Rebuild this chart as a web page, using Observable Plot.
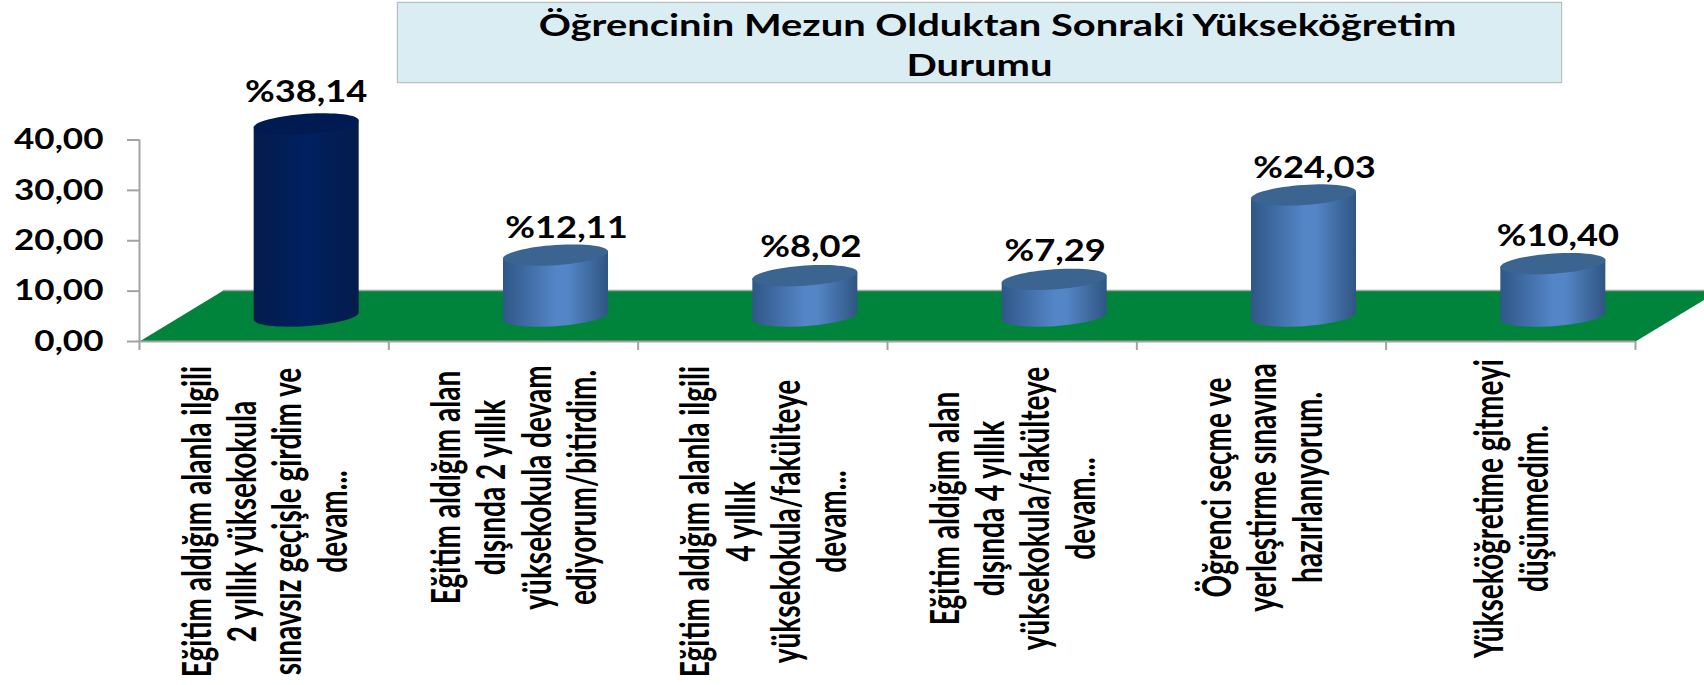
<!DOCTYPE html>
<html lang="tr"><head><meta charset="utf-8">
<script src="https://cdn.jsdelivr.net/npm/d3@7"></script>
<script src="https://cdn.jsdelivr.net/npm/@observablehq/plot@0.6"></script>
<style>
html,body{margin:0;padding:0;background:#fff;overflow:hidden}
#wrap{position:relative;width:1704px;height:685px}
#wrap svg{position:absolute;left:0;top:0;overflow:hidden}
#title{position:absolute;z-index:2;left:397px;top:2px;width:1163px;height:79px;background:#daedf3;border:1px solid #b9c0c3;box-shadow:0 0 1px #aaa;text-align:center;
 font:700 30px Lato,sans-serif;color:#000}
#title span{display:block;height:40px;line-height:42px;transform:scaleX(1.33);transform-origin:50% 50%}
#title span:first-child{transform:translateX(18px) scaleX(1.33)}
</style></head><body>
<div id="wrap">
<div id="title"><span>Öğrencinin Mezun Olduktan Sonraki Yükseköğretim</span><span>Durumu</span></div>
</div>
<script>
// Data
const categories = [
 "Eğitim aldığım alanla ilgili\n2 yıllık yüksekokula\nsınavsız geçişle girdim ve\ndevam...",
 "Eğitim aldığım alan\ndışında 2 yıllık\nyüksekokula devam\nediyorum/bitirdim.",
 "Eğitim aldığım alanla ilgili\n4 yıllık\nyüksekokula/fakülteye\ndevam...",
 "Eğitim aldığım alan\ndışında 4 yıllık\nyüksekokula/fakülteye\ndevam...",
 "Öğrenci seçme ve\nyerleştirme sınavına\nhazırlanıyorum.",
 "Yükseköğretime gitmeyi\ndüşünmedim."
];
const values = [38.14, 12.11, 8.02, 7.29, 24.03, 10.40];
const valueLabels = ["%38,14","%12,11","%8,02","%7,29","%24,03","%10,40"];
const yTicks = [0,10,20,30,40];
const highlighted = [0];

// Layout of the pseudo-3D scene, in data units
const depthX = 0.337, depthY = 10.1;
const radiusX = 0.2106, capA = 2.0, capS = 0.7;
const labelDx = [0,11,6,1,11,5];
const labelDy = [-31,-27,-28,-28,-26,-27];
const catDy = [180,146,180,167,146,167];

const cx = i => i + 0.5 + depthX/2;
const base = depthY/2;
const rows = categories.map((c,i)=>({i,c,v:values[i],label:valueLabels[i]}));

const arc = (x0,y0,from,to,n=32) => d3.range(n+1).map(k=>{
  const t = from+(to-from)*k/n;
  return {x:x0+radiusX*Math.cos(t), y:y0-capA*Math.sin(t)+capS*Math.cos(t)};
});
const bodyPts = r => [...arc(cx(r.i),r.v+base,Math.PI,Math.PI,1).slice(0,1),
                      ...arc(cx(r.i),base,Math.PI,0),
                      ...arc(cx(r.i),r.v+base,0,0,1).slice(0,1)].map(p=>({...p,id:r.i}));
const capPts = r => arc(cx(r.i),r.v+base,0,2*Math.PI,64).map(p=>({...p,id:r.i}));
const isHi = r => highlighted.includes(r.i);
const dark = rows.filter(isHi), light = rows.filter(r=>!isHi(r));

const floor = [{x:0,y:0},{x:depthX,y:depthY},{x:6+depthX,y:depthY},{x:6,y:0}];
const GRAY = "#a3a3a3";

const plot = Plot.plot({
  width:1704, height:685,
  marginLeft:139, marginRight:69, marginTop:139.5, marginBottom:344,
  x:{domain:[0,6],axis:null},
  y:{domain:[0,40],axis:null},
  marks:[
    Plot.line(floor,{x:"x",y:"y",fill:"#00843c",stroke:"none"}),
    Plot.line(floor.slice(1,3),{x:"x",y:"y",stroke:GRAY,strokeWidth:1.5}),
    Plot.ruleX([0],{y1:0,y2:40,stroke:GRAY,strokeWidth:2}),
    Plot.ruleY([0],{x1:0,x2:6,stroke:GRAY,strokeWidth:2}),
    Plot.axisY({ticks:yTicks,anchor:"left",tickSize:12,tickPadding:24,label:null,stroke:GRAY,strokeWidth:2,
      tickFormat:d=>d3.format(".2f")(d).replace(".",","),
      fontSize:28.5,fontFamily:"Lato,sans-serif",fontWeight:700,fill:"#000"}),
    Plot.axisX({ticks:d3.range(7),anchor:"bottom",tickSize:9,tickFormat:()=>"",label:null,stroke:GRAY,strokeWidth:2}),
    Plot.line(light.flatMap(bodyPts),{x:"x",y:"y",z:"id",fill:"url(#lightBody)",stroke:"none"}),
    Plot.line(dark.flatMap(bodyPts),{x:"x",y:"y",z:"id",fill:"url(#darkBody)",stroke:"none"}),
    Plot.line(light.flatMap(capPts),{x:"x",y:"y",z:"id",fill:"#3b6491",stroke:"none"}),
    Plot.line(dark.flatMap(capPts),{x:"x",y:"y",z:"id",fill:"#001b52",stroke:"none"}),
    ...rows.map(r=>Plot.text([r],{x:d=>cx(d.i),y:d=>d.v+base,text:"label",dx:labelDx[r.i],dy:labelDy[r.i],
      fontSize:29.5,fontFamily:"Lato,sans-serif",fontWeight:700,fill:"#000"})),
    ...rows.map(r=>Plot.text([r],{x:d=>d.i+0.5,y:0,text:"c",rotate:-90,dy:catDy[r.i],lineHeight:1.12,
      fontSize:28,fontFamily:"Lato,sans-serif",fontWeight:700,fill:"#000"}))
  ]
});
const defs = document.createElementNS("http://www.w3.org/2000/svg","defs");
defs.innerHTML = `
<linearGradient id="lightBody" x1="0" x2="1" y1="0" y2="0">
 <stop offset="0" stop-color="#2f5788"/><stop offset=".5" stop-color="#5485c6"/><stop offset=".62" stop-color="#5485c6"/><stop offset="1" stop-color="#2f5583"/>
</linearGradient>
<linearGradient id="darkBody" x1="0" x2="1" y1="0" y2="0">
 <stop offset="0" stop-color="#051c4c"/><stop offset=".5" stop-color="#002060"/><stop offset="1" stop-color="#051c4c"/>
</linearGradient>`;
plot.insertBefore(defs,plot.firstChild);
plot.querySelectorAll("text").forEach(t=>{
  const tr = t.getAttribute("transform")||"";
  t.setAttribute("transform", tr+(tr.includes("rotate")?" scale(1,1.45)":" scale(1.23,1)"));
});
document.getElementById("wrap").appendChild(plot);
</script>
</body></html>
